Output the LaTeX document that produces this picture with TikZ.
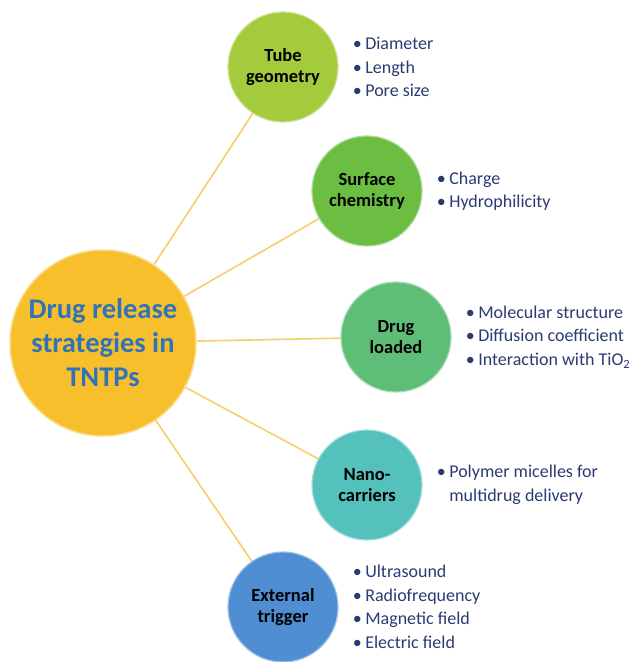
\documentclass[tikz,border=0pt]{standalone}
\usepackage{fontspec}
\setmainfont{Carlito}
\usetikzlibrary{positioning}

\definecolor{hubfill}{HTML}{F8BF2C}
\definecolor{hubtext}{HTML}{2F74B8}
\definecolor{tubefill}{HTML}{A3CB3C}
\definecolor{surffill}{HTML}{6BBE41}
\definecolor{drugfill}{HTML}{5EBD77}
\definecolor{nanofill}{HTML}{55C1BC}
\definecolor{trigfill}{HTML}{4F8ED3}
\definecolor{listtext}{HTML}{2C3A72}
\definecolor{linkline}{HTML}{F6CE6A}

\newcommand{\bul}{\makebox[12.5pt][l]{\textbullet}}

\begin{document}
\begin{tikzpicture}[x=1pt, y=-1pt,
    hubnode/.style={circle, minimum size=186pt, inner sep=0pt, fill=hubfill,
      draw=hubfill!55!white, line width=1.5pt, text=hubtext, align=center,
      font=\fontsize{28.5}{34}\selectfont\bfseries},
    topic/.style={circle, minimum size=110pt, inner sep=0pt, fill=#1,
      draw=#1!55!white, line width=1.2pt, align=center,
      font=\fontsize{18.5}{21}\selectfont\bfseries},
    itemlist/.style={inner sep=0pt, align=left, text=listtext,
      font=\fontsize{18}{23.5}\selectfont},
    link/.style={linkline, line width=1.6pt}]
      \def\gap{14pt}

      \useasboundingbox (0,0) rectangle (633,662);

      \node[hubnode] (hub) at (103,343) {Drug release\\strategies in\\TNTPs};

      \node[topic=tubefill] (tube) at (283,67) {Tube\\geometry};
      \node[topic=surffill] (surface) at (367,191) {Surface\\chemistry};
      \node[topic=drugfill] (drug) at (396,337) {Drug\\loaded};
      \node[topic=nanofill] (nano) at (367,485) {Nano-\\carriers};
      \node[topic=trigfill] (trigger) at (283,607) {External\\trigger};

      \node[itemlist, right=\gap of tube] (tubelist)
        {\bul Diameter\\\bul Length\\\bul Pore size};
      \node[itemlist, right=\gap of surface] (surflist)
        {\bul Charge\\\bul Hydrophilicity};
      \node[itemlist, right=\gap of drug] (druglist)
        {\bul Molecular structure\\\bul Diffusion coefficient\\\bul Interaction with TiO\textsubscript{2}};
      \node[itemlist, right=\gap of nano] (nanolist)
        {\bul Polymer micelles for\\\makebox[12.5pt]{}multidrug delivery};
      \node[itemlist, right=\gap of trigger] (triglist)
        {\bul Ultrasound\\\bul Radiofrequency\\\bul Magnetic field\\\bul Electric field};

      \draw[link] (hub) -- (tube);
      \draw[link] (hub) -- (surface);
      \draw[link] (hub) -- (drug);
      \draw[link] (hub) -- (nano);
      \draw[link] (hub) -- (trigger);

    \end{tikzpicture}
\end{document}
